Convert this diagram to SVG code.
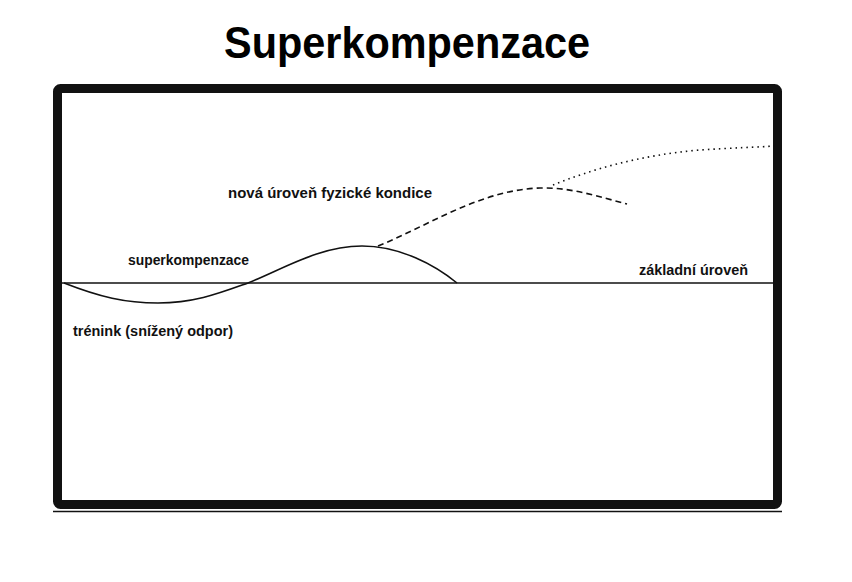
<svg xmlns="http://www.w3.org/2000/svg" width="852" height="582" viewBox="0 0 852 582">
<style>
.lbl{font-family:"Liberation Sans",Arial,sans-serif;font-weight:bold;font-size:14px;fill:#111}
.ttl{font-family:"Liberation Sans",Arial,sans-serif;font-weight:bold;font-size:45px;fill:#000}
.ln{fill:none;stroke:#111;stroke-width:1.6}
</style>
<rect width="852" height="582" fill="#fff"/>
<g id="title"><text class="ttl" x="224" y="58" textLength="366" lengthAdjust="spacingAndGlyphs">Superkompenzace</text></g>
<g id="frame">
<rect x="57.5" y="88.5" width="720" height="416" rx="3" fill="none" stroke="#111" stroke-width="9"/>
<line x1="53" y1="511.5" x2="782" y2="511.5" stroke="#111" stroke-width="1.5"/>
</g>
<g id="connectors">
<line class="ln" x1="62" y1="283" x2="774" y2="283" stroke-width="1.4"/>
<path class="ln" d="M64,283 C100,297 125,303 158,303 C195,303 220,293 248,283 C285,268 320,246 362,246 C400,246 435,265 457,283"/>
<path class="ln" d="M378,246 C430,225 480,190 540,188 C570,187 600,197 627,204" stroke-dasharray="6,4"/>
<path class="ln" d="M553,185 C590,170 640,155 700,150 C730,148 760,147 775,146" stroke-dasharray="1.5,4"/>
</g>
<g id="label-nova"><text class="lbl" x="228" y="198" textLength="204" lengthAdjust="spacingAndGlyphs">nová úroveň fyzické kondice</text></g>
<g id="label-superkompenzace"><text class="lbl" x="128" y="265" textLength="121" lengthAdjust="spacingAndGlyphs">superkompenzace</text></g>
<g id="label-trenink"><text class="lbl" x="73" y="336" textLength="160" lengthAdjust="spacingAndGlyphs">trénink (snížený odpor)</text></g>
<g id="label-zakladni"><text class="lbl" x="639" y="275" textLength="109" lengthAdjust="spacingAndGlyphs">základní úroveň</text></g>
</svg>
